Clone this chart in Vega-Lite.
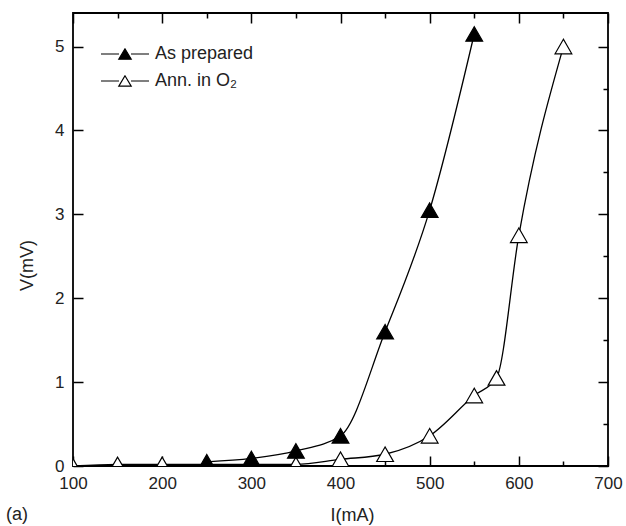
{
  "$schema": "https://vega.github.io/schema/vega-lite/v6.json",
  "width": 535,
  "height": 453,
  "autosize": {"type": "none"},
  "padding": {"left": 73, "top": 13, "right": 18, "bottom": 60},
  "background": "white",
  "config": {
    "font": "Liberation Sans",
    "view": {"stroke": "black", "strokeWidth": 1.8},
    "axis": {
      "domain": false,
      "grid": false,
      "labelFlush": false,
      "labelFontSize": 17,
      "labelColor": "#222",
      "titleFontSize": 18,
      "titleFontWeight": "normal",
      "titleColor": "#222",
      "tickColor": "black",
      "tickWidth": 1.5
    }
  },
  "title": {
    "text": "(a)",
    "orient": "bottom",
    "anchor": "start",
    "frame": "bounds",
    "fontSize": 18,
    "fontWeight": "normal",
    "font": "Liberation Sans",
    "color": "#222",
    "offset": -18,
    "dx": -12
  },
  "data": {
    "values": [
      {"I": 100, "V": 0.0, "sample": "Ann. in O₂"},
      {"I": 150, "V": 0.02, "sample": "Ann. in O₂"},
      {"I": 200, "V": 0.02, "sample": "Ann. in O₂"},
      {"I": 250, "V": 0.02, "sample": "Ann. in O₂"},
      {"I": 300, "V": 0.02, "sample": "Ann. in O₂"},
      {"I": 350, "V": 0.02, "sample": "Ann. in O₂"},
      {"I": 400, "V": 0.08, "sample": "Ann. in O₂"},
      {"I": 450, "V": 0.14, "sample": "Ann. in O₂"},
      {"I": 500, "V": 0.36, "sample": "Ann. in O₂"},
      {"I": 550, "V": 0.84, "sample": "Ann. in O₂"},
      {"I": 575, "V": 1.05, "sample": "Ann. in O₂"},
      {"I": 600, "V": 2.75, "sample": "Ann. in O₂"},
      {"I": 650, "V": 5.0, "sample": "Ann. in O₂"},
      {"I": 250, "V": 0.05, "sample": "As prepared"},
      {"I": 300, "V": 0.09, "sample": "As prepared"},
      {"I": 350, "V": 0.18, "sample": "As prepared"},
      {"I": 400, "V": 0.36, "sample": "As prepared"},
      {"I": 450, "V": 1.6, "sample": "As prepared"},
      {"I": 500, "V": 3.05, "sample": "As prepared"},
      {"I": 550, "V": 5.15, "sample": "As prepared"}
    ]
  },
  "layer": [
    {
      "mark": {"type": "line", "interpolate": "monotone", "color": "black", "strokeWidth": 1.3, "clip": true},
      "encoding": {
        "x": {
          "field": "I",
          "type": "quantitative",
          "scale": {"domain": [100, 700], "nice": false, "zero": false},
          "axis": {
            "orient": "bottom",
            "values": [100, 150, 200, 250, 300, 350, 400, 450, 500, 550, 600, 650, 700],
            "format": "d",
            "labelExpr": "datum.value % 100 === 0 ? datum.label : ''",
            "tickSize": {"condition": {"test": "datum.value % 100 === 0", "value": -10}, "value": -5},
            "labelPadding": 19,
            "title": "I(mA)",
            "titleX": 279,
            "titleY": 49,
            "titleBaseline": "middle"
          }
        },
        "y": {
          "field": "V",
          "type": "quantitative",
          "scale": {"domain": [0, 5.4], "nice": false, "zero": false},
          "axis": {
            "orient": "left",
            "values": [0, 0.5, 1, 1.5, 2, 2.5, 3, 3.5, 4, 4.5, 5],
            "format": "d",
            "labelExpr": "datum.value % 1 === 0 ? datum.label : ''",
            "tickSize": {"condition": {"test": "datum.value % 1 === 0", "value": -10}, "value": -5},
            "labelPadding": 19,
            "title": "V(mV)",
            "titleX": -46,
            "titleY": 252,
            "titleBaseline": "middle"
          }
        },
        "detail": {"field": "sample"}
      }
    },
    {
      "mark": {"type": "point", "shape": "triangle-up", "filled": true, "stroke": "black", "strokeWidth": 1.2, "size": 280, "opacity": 1, "clip": true},
      "encoding": {
        "x": {
          "field": "I",
          "type": "quantitative",
          "scale": {"domain": [100, 700], "nice": false, "zero": false},
          "axis": {
            "orient": "top",
            "values": [100, 150, 200, 250, 300, 350, 400, 450, 500, 550, 600, 650, 700],
            "labels": false,
            "tickSize": {"condition": {"test": "datum.value % 100 === 0", "value": -10}, "value": -5},
            "title": null
          }
        },
        "y": {
          "field": "V",
          "type": "quantitative",
          "scale": {"domain": [0, 5.4], "nice": false, "zero": false},
          "axis": {
            "orient": "right",
            "values": [0, 0.5, 1, 1.5, 2, 2.5, 3, 3.5, 4, 4.5, 5],
            "labels": false,
            "tickSize": {"condition": {"test": "datum.value % 1 === 0", "value": -10}, "value": -5},
            "title": null
          }
        },
        "fill": {
          "field": "sample",
          "type": "nominal",
          "scale": {"domain": ["As prepared", "Ann. in O₂"], "range": ["black", "white"]},
          "legend": {
            "orient": "none",
            "legendX": 41,
            "legendY": 30,
            "title": null,
            "padding": 0,
            "symbolType": "M-2.4,0L-0.6,0M0.6,0L2.4,0M0,-0.52L-0.62,0.52L0.62,0.52Z",
            "symbolSize": 400,
            "symbolStrokeColor": "black",
            "symbolStrokeWidth": 1.2,
            "labelFontSize": 18,
            "labelFont": "Liberation Sans",
            "labelColor": "#222",
            "labelOffset": 19,
            "rowPadding": 7
          }
        }
      }
    }
  ],
  "resolve": {"axis": {"x": "independent", "y": "independent"}}
}
